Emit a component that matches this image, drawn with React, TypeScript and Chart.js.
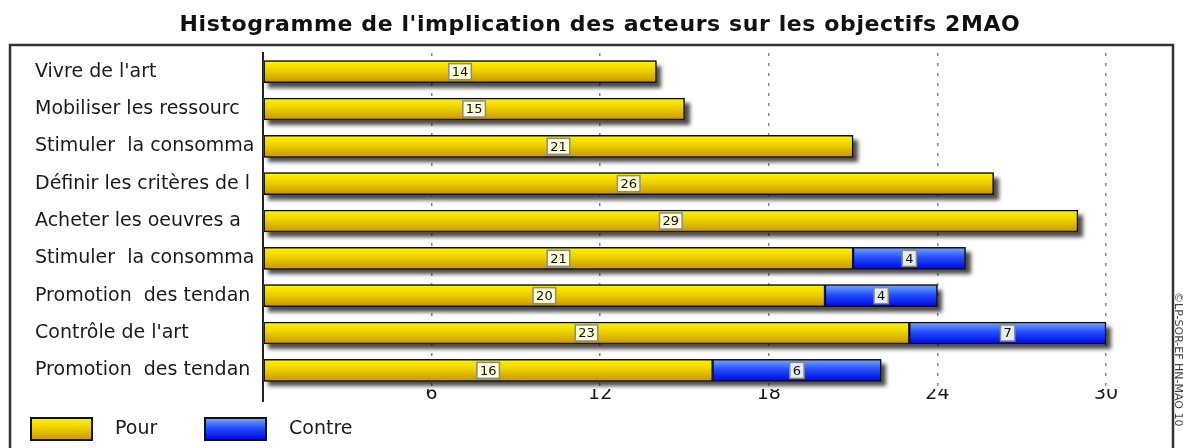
import React, { useEffect, useRef } from "react";
import { Chart, registerables } from "chart.js";

Chart.register(...registerables);

const TITLE = "Histogramme de l'implication des acteurs sur les objectifs 2MAO";
const SIDE_NOTE = "©LP-SOR-EF HN-MAO 10";
const categories = [
  "Vivre de l'art",
  "Mobiliser les ressourc",
  "Stimuler  la consomma",
  "Définir les critères de l",
  "Acheter les oeuvres a",
  "Stimuler  la consomma",
  "Promotion  des tendan",
  "Contrôle de l'art",
  "Promotion  des tendan",
];
const pourValues = [14, 15, 21, 26, 29, 21, 20, 23, 16];
const contreValues = [null, null, null, null, null, 4, 4, 7, 6];
const seriesLabels = ["Pour", "Contre"];
const xTickStep = 6;
const xMax = 30;

const FONT = "'DejaVu Sans', sans-serif";
const BAR_H = 22;

const yellowStops: [number, string][] = [
  [0, "#fff400"],
  [0.4, "#f0d400"],
  [1, "#c89400"],
];
const blueStops: [number, string][] = [
  [0, "#78aaff"],
  [0.45, "#2450ff"],
  [1, "#0004e0"],
];
const labelBg = ["#ffffd8", "#e4ecf2"];

function makeGradient(c: CanvasRenderingContext2D, y0: number, y1: number, stops: [number, string][]) {
  const g = c.createLinearGradient(0, y0, 0, y1);
  stops.forEach(([o, col]) => g.addColorStop(o, col));
  return g;
}

function barFill(stops: [number, string][]) {
  return (ctx: any) => {
    const chart = ctx.chart;
    const ys = chart.scales && chart.scales.y;
    if (!chart.chartArea || !ys || ctx.type !== "data") return stops[1][1];
    const yc = ys.getPixelForValue(ctx.dataIndex);
    return makeGradient(chart.ctx, yc - BAR_H / 2, yc + BAR_H / 2, stops);
  };
}

const decorPlugin = {
  id: "decor",
  beforeDatasetsDraw(chart: any) {
    const c = chart.ctx as CanvasRenderingContext2D;
    const area = chart.chartArea;
    const metas = chart.getSortedVisibleDatasetMetas();
    const n = chart.data.labels.length;
    for (let i = 0; i < n; i++) {
      let xEnd = area.left;
      let y = 0;
      let h = 0;
      metas.forEach((m: any) => {
        const el = m.data[i];
        const v = chart.data.datasets[m.index].data[i];
        if (el && v != null) {
          xEnd = Math.max(xEnd, el.x);
          y = el.y;
          h = el.height;
        }
      });
      if (h > 0) {
        c.save();
        c.shadowColor = "rgba(0,0,0,0.7)";
        c.shadowBlur = 4;
        c.shadowOffsetX = 5;
        c.shadowOffsetY = 5;
        c.fillStyle = "#555";
        c.fillRect(area.left, y - h / 2, xEnd - area.left, h);
        c.restore();
      }
    }
  },
  afterDatasetsDraw(chart: any) {
    const c = chart.ctx as CanvasRenderingContext2D;
    chart.getSortedVisibleDatasetMetas().forEach((m: any) => {
      const ds = chart.data.datasets[m.index];
      m.data.forEach((el: any, i: number) => {
        const v = ds.data[i];
        if (v == null) return;
        const cx = (el.x + el.base) / 2;
        const cy = el.y;
        c.save();
        c.font = `13px ${FONT}`;
        const txt = String(v);
        const w = c.measureText(txt).width + 6;
        const h = 16;
        c.fillStyle = labelBg[m.index] || "#fff";
        c.fillRect(cx - w / 2, cy - h / 2, w, h);
        c.lineWidth = 1.5;
        c.strokeStyle = "#8a8a8a";
        c.strokeRect(cx - w / 2, cy - h / 2, w, h);
        c.fillStyle = "#111";
        c.textAlign = "center";
        c.textBaseline = "middle";
        c.fillText(txt, cx, cy + 1);
        c.restore();
      });
    });
  },
  afterDraw(chart: any) {
    const c = chart.ctx as CanvasRenderingContext2D;
    const area = chart.chartArea;
    c.save();
    c.strokeStyle = "#333";
    c.lineWidth = 2.5;
    c.strokeRect(10, 45, 1163, 440);
    c.strokeStyle = "#222";
    c.lineWidth = 2;
    c.beginPath();
    c.moveTo(area.left, area.bottom);
    c.lineTo(area.left, area.bottom + 13);
    c.stroke();
    c.save();
    c.fillStyle = "#111";
    c.font = `bold 22px ${FONT}`;
    (c as any).letterSpacing = "0.6px";
    c.textAlign = "center";
    c.textBaseline = "middle";
    c.fillText(TITLE, 600, 25);
    c.restore();
    const stops = [yellowStops, blueStops];
    chart.data.datasets.forEach((ds: any, i: number) => {
      const bx = 31 + i * 174;
      const by = 418;
      c.fillStyle = makeGradient(c, by, by + 22, stops[i]);
      c.fillRect(bx, by, 61, 22);
      c.lineWidth = 2;
      c.strokeStyle = "#111";
      c.strokeRect(bx, by, 61, 22);
      c.fillStyle = "#1a1a1a";
      c.font = `19px ${FONT}`;
      c.textAlign = "left";
      c.textBaseline = "middle";
      c.fillText(ds.label, bx + 84, by + 11);
    });
    c.translate(1178, 292);
    c.rotate(Math.PI / 2);
    c.font = `11px ${FONT}`;
    c.fillStyle = "#444";
    c.textAlign = "left";
    c.textBaseline = "middle";
    c.fillText(SIDE_NOTE, 0, 0);
    c.restore();
  },
};

export default function App() {
  const ref = useRef<HTMLCanvasElement | null>(null);
  useEffect(() => {
    if (!ref.current) return;
    const chart = new Chart(ref.current, {
      type: "bar",
      data: {
        labels: categories,
        datasets: [
          {
            label: seriesLabels[0],
            data: pourValues,
            backgroundColor: barFill(yellowStops),
            borderColor: "#111",
            borderWidth: 1.5,
            borderSkipped: false,
            barThickness: BAR_H,
          },
          {
            label: seriesLabels[1],
            data: contreValues as any,
            backgroundColor: barFill(blueStops),
            borderColor: "#111",
            borderWidth: 1.5,
            borderSkipped: false,
            barThickness: BAR_H,
          },
        ],
      },
      options: {
        indexAxis: "y",
        animation: false,
        responsive: false,
        devicePixelRatio: 1,
        layout: { padding: { left: 35, right: 77, top: 53, bottom: 0 } },
        plugins: {
          legend: { display: false },
          title: { display: false },
          tooltip: { enabled: false },
        },
        scales: {
          x: {
            stacked: true,
            min: 0,
            max: xMax,
            afterFit: (s: any) => {
              s.height = 59;
            },
            ticks: {
              stepSize: xTickStep,
              padding: -6,
              color: "#1a1a1a",
              font: { family: FONT, size: 19 },
              callback: (v: any) => (v === 0 ? "" : String(v)),
            },
            grid: {
              drawTicks: false,
              color: (ctx: any) => (ctx.tick && ctx.tick.value === 0 ? "rgba(0,0,0,0)" : "#8a8a8a"),
              lineWidth: 1.5,
            },
            border: { display: false, dash: [3, 7] },
          },
          y: {
            stacked: true,
            afterFit: (s: any) => {
              s.width = 228;
            },
            ticks: {
              crossAlign: "far",
              color: "#1a1a1a",
              font: { family: FONT, size: 19 },
            },
            grid: { display: false, drawTicks: false },
            border: { display: true, color: "#222", width: 2 },
          },
        },
      },
      plugins: [decorPlugin],
    });
    return () => chart.destroy();
  }, []);
  return (
    <div style={{ position: "absolute", left: 0, top: 0, width: 1183, height: 448, background: "#fff" }}>
      <canvas ref={ref} width={1183} height={448} />
    </div>
  );
}
